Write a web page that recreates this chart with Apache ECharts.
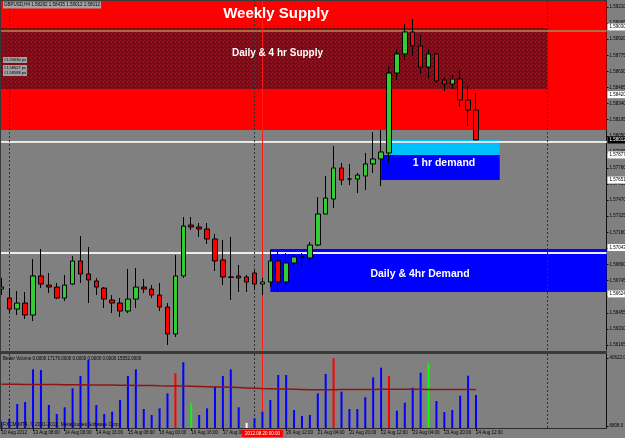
<!DOCTYPE html>
<html><head><meta charset="utf-8">
<script src="https://cdn.jsdelivr.net/npm/echarts@6/dist/echarts.min.js"></script>
<style>html,body{margin:0;padding:0;background:#808080;overflow:hidden}#c{width:625px;height:438px}</style>
</head><body><div id="c"></div>
<script>
// ---------------- DATA ----------------
const symbolName = 'GBPUSD,H4';
const firstBarTime = '2012-08-10T20:00:00Z';
const opens = [1.56669,1.56588,1.56489,1.56543,1.56435,1.56787,1.56705,1.56687,1.56588,1.56714,
1.56922,1.56805,1.56742,1.56678,1.56570,1.56543,1.56471,1.56579,1.56687,1.56669,
1.56615,1.56507,1.56264,1.56787,1.57246,1.57228,1.57210,1.57120,1.56931,1.56778,
1.56787,1.56778,1.56814,1.56714,1.56733,1.56922,1.56733,1.56904,1.56958,1.56949,
1.57066,1.57345,1.57480,1.57760,1.57660,1.57660,1.57687,1.57796,1.57841,1.57895,
1.58615,1.58787,1.58985,1.58859,1.58669,1.58787,1.58552,1.58516,1.58561,1.58372,
1.58282];
const closes = [1.56687,1.56489,1.56543,1.56435,1.56787,1.56714,1.56687,1.56588,1.56705,1.56922,
1.56805,1.56751,1.56687,1.56579,1.56543,1.56471,1.56579,1.56687,1.56669,1.56615,
1.56507,1.56264,1.56787,1.57237,1.57228,1.57210,1.57120,1.56922,1.56778,1.56775,
1.56769,1.56733,1.56714,1.56733,1.56922,1.56733,1.56904,1.56958,1.56958,1.57066,
1.57345,1.57489,1.57760,1.57651,1.57660,1.57696,1.57796,1.57841,1.57904,1.58615,
1.58787,1.58985,1.58859,1.58669,1.58787,1.58543,1.58516,1.58561,1.58372,1.58282,
1.58012];
const lows = [1.56615,1.56453,1.56435,1.56399,1.56381,1.56678,1.56633,1.56579,1.56561,1.56705,
1.56724,1.56543,1.56615,1.56498,1.56453,1.56417,1.56453,1.56498,1.56633,1.56588,
1.56471,1.56165,1.56237,1.56769,1.57201,1.57138,1.57075,1.56832,1.56705,1.56570,
1.56642,1.56642,1.56660,1.56615,1.56687,1.56651,1.56705,1.56868,1.56868,1.56904,
1.57057,1.57345,1.57399,1.57606,1.57606,1.57534,1.57561,1.57714,1.57597,1.57805,
1.58552,1.58733,1.58769,1.58606,1.58570,1.58525,1.58453,1.58471,1.58309,1.58138,
1.58012];
const highs = [1.56769,1.56678,1.56651,1.56642,1.56940,1.57030,1.56814,1.56724,1.56796,1.56967,
1.57147,1.57048,1.56769,1.56687,1.56615,1.56588,1.56850,1.56859,1.56760,1.56705,
1.56724,1.56543,1.56976,1.57318,1.57318,1.57264,1.57264,1.57165,1.57111,1.57138,
1.56886,1.56796,1.56841,1.56769,1.57021,1.57021,1.56994,1.56976,1.56994,1.57093,
1.57498,1.57687,1.57958,1.57805,1.57796,1.57714,1.57895,1.58084,1.58102,1.58678,
1.58832,1.59057,1.59102,1.58958,1.58832,1.58796,1.58579,1.58597,1.58642,1.58498,
1.58435];
const volumes = [9000,10290,17750,18740,35000,34660,17250,12770,16100,25550,
31670,39630,17250,12770,13920,19740,31670,35000,15260,12280,
15590,23070,33020,38470,18100,12280,15590,26370,31670,35000,
16100,8300,10620,13920,19740,32170,32170,14760,11780,12280,
23070,32670,40470,23870,15260,15260,21070,31010,35810,31670,
14420,18400,25850,33320,37990,19240,13770,14760,21880,31820,
22220];
const volumeMA = [27600,27600,27550,27500,27500,27450,27400,27400,27350,27300,
27300,27250,27200,27200,27150,27100,27050,27000,26950,26900,
26800,26750,26700,26650,26550,26450,26350,26250,26150,26050,
25900,25750,25600,25450,25350,25250,25150,25050,24950,24850,
24800,24800,24850,24900,24950,25000,25000,25000,25050,25050,
25050,25050,25050,25050,25000,25000,25000,25000,25000,25000,
25000];
const redVolumeBars = [22,42,49];
const greenVolumeBars = [24,54];
const whiteVolumeBars = [31];
const volumeTitle = 'Better Volume 0.0000 17176.0000 0.0000 0.0000 0.0000 15552.0000';
const footerText = 'FXCM MT4, \u00a9 2001-2012, MetaQuotes Software Corp.';

const priceTicks = [1.56165,1.56310,1.56455,1.56600,1.56745,1.56890,1.57035,1.57180,1.57325,1.57470,
1.57615,1.57760,1.57905,1.58050,1.58195,1.58340,1.58485,1.58630,1.58775,1.58920,1.59065,1.59210];
const volumeTicks = [6808, 40622];

// zones: price top / bottom, first and last bar index (null = chart edge)
const zoneNames   = ['Weekly Supply','Daily & 4 hr Supply','1 hr demand (upper)','1 hr demand','Daily & 4hr Demand'];
const zoneTop     = [1.59264, 1.59021, 1.58012, 1.57877, 1.57030];
const zoneBottom  = [1.58102, 1.58471, 1.57877, 1.57651, 1.56642];
const zoneFrom    = [null, null, 49, 48, 34];
const zoneTo      = [null, 69, 63, 63, null];

// horizontal level lines
const levelPrices = [1.59030, 1.58708, 1.58627, 1.58588, 1.58420, 1.58012, 1.57877, 1.57651, 1.57043, 1.56624];
const levelTags   = ['#1.59030 px','#1.58708 px','#1.58627 px','#1.58588 px'];
const axisMarkedLevels = [1.59030, 1.58420, 1.58012, 1.57877, 1.57651, 1.57043, 1.56624];
// vertical lines (bar index)
const periodSeparators = [1, 32, 69];
const crosshairBar = 33;

// ---------------- LAYOUT / STYLE ----------------
const FONT = '"Liberation Sans", Arial, sans-serif';
const N_SLOTS = 77;
const GRID_LEFT = -2.56, GRID_W = 609.07;
const PRICE_MIN = 1.56120, PRICE_MAX = 1.59264;
const VOL_MIN = 5813, VOL_MAX = 42611;

const MON = ['Jan','Feb','Mar','Apr','May','Jun','Jul','Aug','Sep','Oct','Nov','Dec'];
const pad = n => (n < 10 ? '0' : '') + n;
function buildTimes(n) {
  const out = []; let t = Date.parse(firstBarTime);
  while (out.length < n) {
    const d = new Date(t); const wd = d.getUTCDay(), h = d.getUTCHours();
    if (!(wd === 6 || (wd === 0 && h < 20))) {
      out.push(d.getUTCFullYear() + '.' + pad(d.getUTCMonth() + 1) + '.' + pad(d.getUTCDate()) + ' ' + pad(h) + ':00');
    }
    t += 4 * 3600e3;
  }
  return out;
}
const times = buildTimes(N_SLOTS);
function timeLabel(v, idx) {
  const [date, hm] = v.split(' '); const [y, m, d] = date.split('.');
  if (idx === 0) return (+d) + ' ' + MON[+m - 1] + ' ' + y;
  return (+d) + ' ' + MON[+m - 1] + ' ' + hm;
}
const showTimeLabel = idx => idx % 4 === 0 && idx <= opens.length - 1 && idx !== 32;

const candleData = opens.map((o, i) => [o, closes[i], lows[i], highs[i]]);
const volData = volumes.map((v, i) => ({
  value: v,
  itemStyle: { color: redVolumeBars.includes(i) ? '#ff0000' : greenVolumeBars.includes(i) ? '#00ff00' : whiteVolumeBars.includes(i) ? '#ffffff' : '#0000ff' }
}));

// hatch pattern for the dark supply zone
const pc = document.createElement('canvas'); pc.width = 4; pc.height = 4;
const g = pc.getContext('2d');
g.fillStyle = '#820b17'; g.fillRect(0, 0, 4, 4);
g.fillStyle = '#961624'; g.fillRect(0, 0, 1, 1); g.fillRect(2, 2, 1, 1); g.fillRect(3, 1, 1, 1);
g.fillStyle = '#6c0610'; g.fillRect(2, 0, 1, 1); g.fillRect(0, 2, 1, 1); g.fillRect(1, 3, 1, 1);

const zoneFills = ['#ff0000', { image: pc, repeat: 'repeat' }, '#00bfff', '#0000ff', '#0000ff'];
const zoneData = zoneNames.map((n, i) => {
  const a = { name: n, yAxis: zoneTop[i], itemStyle: { color: zoneFills[i], opacity: 1 } };
  const b = { yAxis: zoneBottom[i] };
  if (zoneFrom[i] !== null) a.xAxis = zoneFrom[i];
  if (zoneTo[i] !== null) b.xAxis = zoneTo[i];
  return [a, b];
});

const levelStyles = [
  { color: '#ff6060', width: 1.5 }, { color: '#a85a30', width: 1.2 }, { color: '#b06a40', width: 1.2 },
  { color: '#b06a40', width: 1.2 }, { color: '#c06060', width: 1.5 }, { color: '#c8c8c8', width: 2 },
  { color: '#ffffff', width: 1 }, { color: '#e8e8e8', width: 1.5 }, { color: '#e8e8e8', width: 2 },
  { color: '#f2f2f2', width: 1.5, type: [2, 1] }
];
const levelLines = levelPrices.map((p, i) => ({ yAxis: p, lineStyle: Object.assign({ type: 'solid' }, levelStyles[i]) }));
const sepLines = periodSeparators.map(b => ({ xAxis: b, lineStyle: { color: '#333', width: 1, type: [2, 2] } }));
const redLineMain = { xAxis: crosshairBar, lineStyle: { color: '#ff1a1a', width: 1, type: 'solid' } };
const redLineVol = {
  xAxis: crosshairBar, lineStyle: { color: '#ff1a1a', width: 1, type: 'solid' },
  label: { show: true, position: 'start', distance: 2, formatter: times[crosshairBar], color: '#ffffff',
    backgroundColor: '#ff0000', fontSize: 4.5, fontFamily: FONT, padding: [1, 3] }
};

const last = opens.length - 1;
const bid = closes[last];
const headerText = symbolName + ' ' + [opens[last], highs[last], lows[last], closes[last]].map(v => v.toFixed(5)).join(' ');

const txt = (text, x, y, font, fill, align, extra) => ({
  type: 'text', silent: true, z: 100,
  style: Object.assign({ text, x, y, font, fill, align: align || 'center', verticalAlign: 'middle',
    textAlign: align || 'center', textVerticalAlign: 'middle' }, extra || {})
});

const option = {
  animation: false,
  backgroundColor: '#808080',
  grid: [
    { left: GRID_LEFT, top: 1, width: GRID_W, height: 349, containLabel: false, outerBoundsMode: 'none', show: false },
    { left: GRID_LEFT, top: 354, width: GRID_W, height: 74, containLabel: false, outerBoundsMode: 'none', show: false }
  ],
  xAxis: [
    { type: 'category', gridIndex: 0, data: times, show: false, boundaryGap: true },
    { type: 'category', gridIndex: 1, data: times, boundaryGap: true,
      axisLine: { show: true, lineStyle: { color: '#2a2a2a', width: 1 } },
      axisTick: { show: true, interval: showTimeLabel, alignWithLabel: true, length: 3, lineStyle: { color: '#111' } },
      axisLabel: { show: true, interval: showTimeLabel, formatter: timeLabel, align: 'left', margin: 2,
        fontSize: 4.5, fontFamily: FONT, color: '#000' },
      splitLine: { show: false } }
  ],
  yAxis: [
    { type: 'value', gridIndex: 0, position: 'right', min: PRICE_MIN, max: PRICE_MAX, scale: true,
      axisLine: { show: true, lineStyle: { color: '#111', width: 1 } },
      axisTick: { show: true, customValues: priceTicks, length: 2, lineStyle: { color: '#111' } },
      axisLabel: { show: true, customValues: priceTicks, formatter: v => v.toFixed(5), margin: 3,
        fontSize: 4.5, fontFamily: FONT, color: '#000' },
      splitLine: { show: false } },
    { type: 'value', gridIndex: 0, position: 'right', min: PRICE_MIN, max: PRICE_MAX, scale: true,
      axisLine: { show: false }, axisTick: { show: false }, splitLine: { show: false },
      axisLabel: { show: true, customValues: axisMarkedLevels, margin: 1,
        formatter: v => (Math.abs(v - bid) < 1e-7 ? '{b|' : '{w|') + v.toFixed(5) + '}',
        rich: {
          w: { backgroundColor: '#ffffff', color: '#000', fontSize: 4.5, fontFamily: FONT, padding: [1, 2] },
          b: { backgroundColor: '#000000', color: '#fff', fontSize: 4.5, fontFamily: FONT, padding: [1, 2] }
        } } },
    { type: 'value', gridIndex: 1, position: 'right', min: VOL_MIN, max: VOL_MAX,
      axisLine: { show: true, lineStyle: { color: '#111', width: 1 } },
      axisTick: { show: true, customValues: volumeTicks, length: 2, lineStyle: { color: '#111' } },
      axisLabel: { show: true, customValues: volumeTicks, formatter: v => v.toFixed(1), margin: 3,
        fontSize: 4.5, fontFamily: FONT, color: '#000' },
      splitLine: { show: false } }
  ],
  series: [
    { type: 'candlestick', name: symbolName, xAxisIndex: 0, yAxisIndex: 0, data: candleData, z: 3,
      barWidth: 5, silent: true,
      itemStyle: { color: '#32cd32', color0: '#ff0000', borderColor: '#000', borderColor0: '#000',
        borderColorDoji: '#000', borderWidth: 1 },
      markArea: { silent: true, z: 1, label: { show: false }, data: zoneData },
      markLine: { silent: true, z: 2, symbol: ['none', 'none'], label: { show: false },
        data: levelLines.concat(sepLines, [redLineMain]) } },
    { type: 'bar', name: 'Better Volume', xAxisIndex: 1, yAxisIndex: 2, data: volData, barWidth: 2, z: 3, silent: true,
      markLine: { silent: true, z: 2, symbol: ['none', 'none'], label: { show: false },
        data: sepLines.concat([redLineVol]) } },
    { type: 'line', name: 'Volume MA', xAxisIndex: 1, yAxisIndex: 2, data: volumeMA, z: 4, silent: true,
      symbol: 'none', lineStyle: { color: '#8e1414', width: 1.5 } }
  ],
  graphic: [
    { type: 'rect', silent: true, z: 90, shape: { x: 0, y: 351, width: 607, height: 3 }, style: { fill: '#3a3a3a' } },
    { type: 'line', silent: true, z: 90, shape: { x1: 0.5, y1: 0, x2: 0.5, y2: 429 }, style: { stroke: '#3a3a3a', lineWidth: 1 } },
    { type: 'line', silent: true, z: 90, shape: { x1: 0, y1: 0.5, x2: 607, y2: 0.5 }, style: { stroke: '#3a3a3a', lineWidth: 1 } },
    txt(headerText, 3, 5, '4.5px ' + FONT, '#000', 'left', { backgroundColor: '#a4a4a4', padding: [1, 1] }),
    txt(zoneNames[0], 276, 14, 'bold 15px ' + FONT, '#ffffff'),
    txt(zoneNames[1], 277.5, 53, 'bold 10px ' + FONT, '#ffffff'),
    txt(zoneNames[3], 444, 163, 'bold 10.5px ' + FONT, '#ffffff'),
    txt(zoneNames[4], 420, 274, 'bold 10.5px ' + FONT, '#ffffff'),
    txt(levelTags[0], 3, 60, '4px ' + FONT, '#000', 'left', { backgroundColor: '#a0a0a0', padding: [1, 1] }),
    txt(levelTags[2], 3, 68, '4px ' + FONT, '#000', 'left', { backgroundColor: '#a0a0a0', padding: [1, 1] }),
    txt(levelTags[3], 3, 73, '4px ' + FONT, '#000', 'left', { backgroundColor: '#a0a0a0', padding: [1, 1] }),
    txt(volumeTitle, 3, 359, '4.5px ' + FONT, '#000', 'left'),
    txt(footerText, 3, 425, '4.8px ' + FONT, '#000', 'left')
  ]
};

const chart = echarts.init(document.getElementById('c'), null, { renderer: 'canvas', width: 625, height: 438 });
chart.setOption(option);
</script>
</body></html>
